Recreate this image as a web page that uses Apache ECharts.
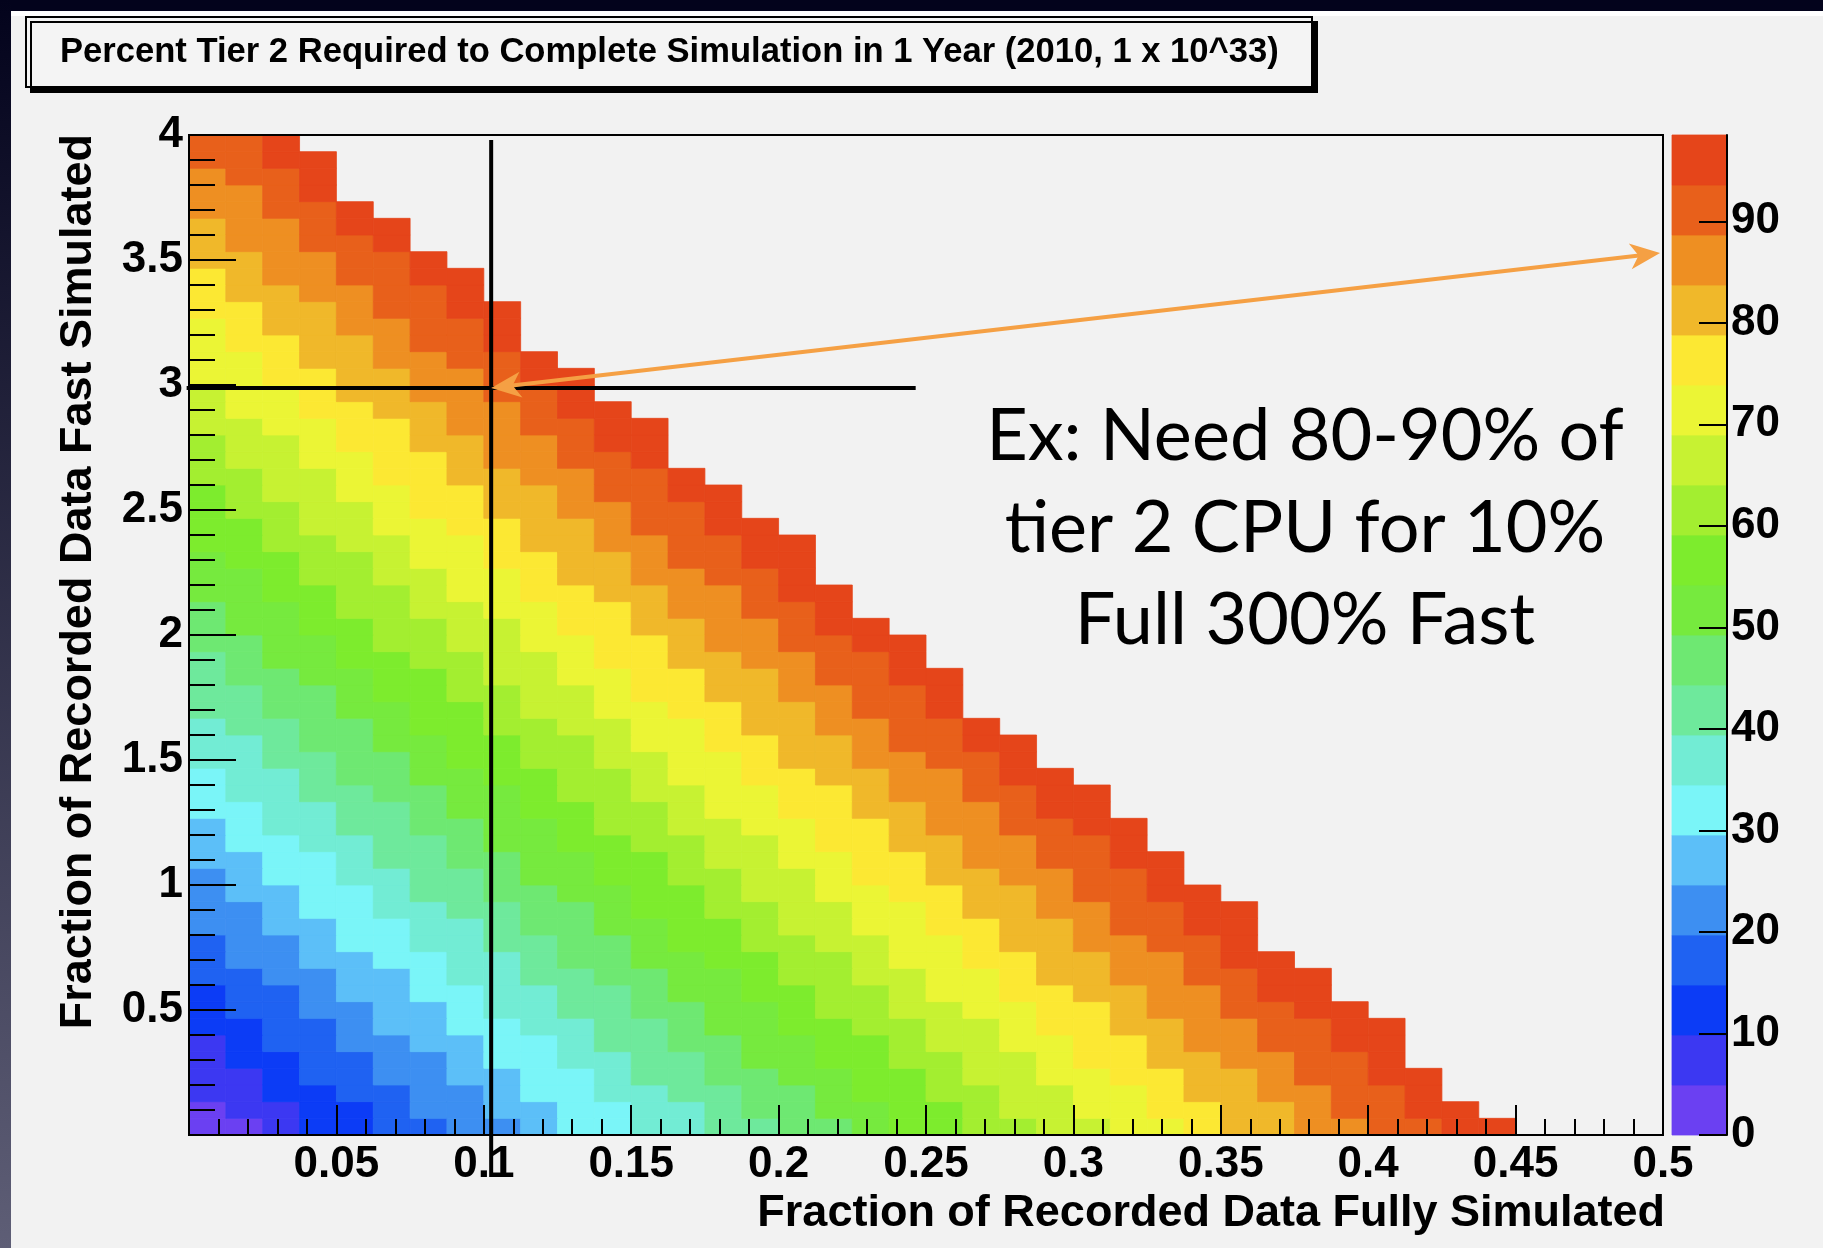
<!DOCTYPE html>
<html>
<head>
<meta charset="utf-8">
<script src="https://cdn.jsdelivr.net/npm/echarts@6/dist/echarts.min.js"></script>
<style>
  html, body { margin: 0; padding: 0; background: #f2f2f2; }
  #main { width: 1823px; height: 1248px; }
</style>
</head>
<body>
<div id="main"></div>
<script>
// ---------------- data ----------------
const titleText = 'Percent Tier 2 Required to Complete Simulation in 1 Year (2010, 1 x 10^33)';
const xAxisTitle = 'Fraction of Recorded Data Fully Simulated';
const yAxisTitle = 'Fraction of Recorded Data Fast Simulated';
const noteLines = ['Ex: Need 80-90% of', 'tier 2 CPU for 10%', 'Full 300% Fast'];

// histogram binning (40 bins in x over 0-0.5, 60 bins in y over 0-4)
const xBinWidth = 0.0125;
const yBinHeight = 4 / 60;

// z scale of the palette (0 .. max) split into 20 colour bands
const zMax = 98.5;
const bandCount = 20;
const bandCodes = '0123456789abcdefghij';   // one character per band, 0 = lowest

// colour band of every filled cell, one string per y bin (bottom row first),
// one character per x bin starting at x = 0
const levelRows = [
  '001223344566778899abbccddeefgghhiijj',
  '01122344556677899aabbcddeeffgghiijj',
  '11223344566778899abbccddeefgghhiij',
  '1123344556678899aabbcddeeffgghiijj',
  '122334456677889aabbccddeffgghhiij',
  '123344556678899aabbcddeeffghhiijj',
  '22334556677889aabbccddeffgghhiijj',
  '23344556778899aabccddeeffghhiijj',
  '2334556677889aabbccdeeffgghhijj',
  '3344556778899aabccddeefgghhiijj',
  '344556677899aabbccdeeffgghhijj',
  '344566778899abbccddeefgghhiij',
  '44556677899aabbcddeeffgghiijj',
  '44566778899abbccddeefgghhiijj',
  '4556678899aabbcddeeffgghiijj',
  '456677889aabbccddeffgghhiij',
  '556678899aabbcddeeffghhiijj',
  '56677889aabbccddeffgghhiij',
  '56778899aabccddeeffghhiijj',
  '6677889aabbccdeeffgghhijj',
  '6778899aabccddeeffghhiijj',
  '677899aabbccdeeffgghhijj',
  '778899abbccddeefgghhiij',
  '77899aabbccdeeffgghiijj',
  '78899abbccddeefgghhiij',
  '8899aabbcddeeffgghiij',
  '8899abbccddeffgghhiij',
  '899aabbcddeeffgghiijj',
  '89aabbccddeffgghhiij',
  '99aabccddeeffghhiijj',
  '9aabbccddeffgghhijj',
  '9aabccddeeffghhiij',
  'aabbccdeeffgghhijj',
  'aabccddeefgghhiij',
  'abbccdeeffgghiijj',
  'bbccddeefgghhiijj',
  'bbcddeeffgghiijj',
  'bccddeffgghhiij',
  'bcddeeffgghiijj',
  'ccddeffgghhiij',
  'cddeeffghhiij',
  'cddeffgghhijj',
  'ddeeffghhiijj',
  'deeffgghhijj',
  'deefgghhiij',
  'eeffgghhijj',
  'eefgghhiij',
  'effgghiij',
  'efgghhiij',
  'ffgghiijj',
  'fgghhiij',
  'fghhiijj',
  'gghhiij',
  'ghhiij',
  'ghhijj',
  'hhiij',
  'hhij',
  'hiij',
  'iijj',
  'iij'
];

// palette colours, lowest band first
const bandColors = [
  '#6b40f2', '#3c38f2', '#0c3cf6', '#1f62f2', '#3d8ff2',
  '#5cbff8', '#7af5f8', '#72ecd4', '#6ee99c', '#6ee872',
  '#76ea3e', '#7dec2d', '#a3ee30', '#c7f232', '#ebf535',
  '#fce833', '#f0b82a', '#ee8f22', '#e8601b', '#e5451a'
];

// hand-drawn guide lines of the example (in axis units)
const guideFull = 0.1025;         // vertical line
const guideFast = 2.988;          // horizontal line
const guideVerticalSpan = [3.98, -0.168];
const guideHorizontalSpan = [-0.0008, 0.2465];
const arrowEnd = [0.499, 3.528];  // right arrow tip (points at the 85-90 band)

// ---------------- build series data ----------------
const bandWidth = zMax / bandCount;
const cells = [];
levelRows.forEach((row, r) => {
  for (let k = 0; k < row.length; k++) {
    const band = bandCodes.indexOf(row[k]);
    cells.push([k * xBinWidth, (k + 1) * xBinWidth, r * yBinHeight, (r + 1) * yBinHeight,
                (band + 0.5) * bandWidth]);
  }
});
const paletteCells = bandColors.map((c, j) => [0, 1, j * bandWidth, (j + 1) * bandWidth, (j + 0.5) * bandWidth]);
const pieces = bandColors.map((c, j) => (j === bandCount - 1
  ? { gte: j * bandWidth, lte: zMax + 1, color: c }
  : { gte: j * bandWidth, lt: (j + 1) * bandWidth, color: c }));

const FONT = '"Liberation Sans", Arial, Helvetica, sans-serif';

function renderCell(params, api) {
  const p0 = api.coord([api.value(0), api.value(3)]);
  const p1 = api.coord([api.value(1), api.value(2)]);
  const color = api.visual('color');
  return {
    type: 'rect',
    shape: { x: p0[0], y: p0[1], width: p1[0] - p0[0], height: p1[1] - p0[1] },
    style: { fill: color, stroke: color, lineWidth: 0.8 }
  };
}

const chart = echarts.init(document.getElementById('main'), null, { renderer: 'canvas' });

const option = {
  backgroundColor: '#f2f2f2',
  animation: false,
  title: {
    text: titleText,
    left: 26, top: 17,
    padding: [15, 34],
    backgroundColor: '#f4f4f4',
    borderColor: '#000', borderWidth: 2,
    shadowColor: '#000', shadowBlur: 0, shadowOffsetX: 5, shadowOffsetY: 5,
    textStyle: { fontFamily: FONT, fontWeight: 'bold', fontSize: 34.6, color: '#000', lineHeight: 40 }
  },
  visualMap: {
    type: 'piecewise', show: false, dimension: 4, seriesIndex: [0, 1], pieces: pieces
  },
  grid: [
    { left: 189, top: 135, width: 1474, height: 1000, show: true, borderColor: '#000', borderWidth: 2,
      backgroundColor: 'transparent', z: 8 },
    { left: 1672, top: 135, width: 55, height: 1000, show: false }
  ],
  xAxis: [
    {
      type: 'value', gridIndex: 0, min: 0, max: 0.5, interval: 0.05, z: 10,
      axisLine: { show: true, onZero: false, lineStyle: { color: '#000', width: 2 } },
      axisTick: { show: true, inside: true, length: 30, lineStyle: { color: '#000', width: 2 } },
      minorTick: { show: true, splitNumber: 5, length: 16, lineStyle: { color: '#000', width: 2 } },
      splitLine: { show: false }, minorSplitLine: { show: false },
      axisLabel: {
        margin: 8, fontFamily: FONT, fontWeight: 'bold', fontSize: 44, color: '#000',
        formatter: v => (v === 0 ? '' : String(+v.toFixed(2)))
      },
      name: xAxisTitle, nameLocation: 'end', nameGap: 2,
      nameTextStyle: { fontFamily: FONT, fontWeight: 'bold', fontSize: 45, color: '#000',
                       align: 'right', verticalAlign: 'top', padding: [56, 0, 0, 0] }
    },
    { type: 'value', gridIndex: 1, min: 0, max: 1, show: false }
  ],
  yAxis: [
    {
      type: 'value', gridIndex: 0, min: 0, max: 4, interval: 0.5, z: 10,
      axisLine: { show: true, onZero: false, lineStyle: { color: '#000', width: 2 } },
      axisTick: { show: true, inside: true, length: 47, lineStyle: { color: '#000', width: 2 } },
      minorTick: { show: true, splitNumber: 5, length: 26, lineStyle: { color: '#000', width: 2 } },
      splitLine: { show: false }, minorSplitLine: { show: false },
      axisLabel: {
        margin: 6, fontFamily: FONT, fontWeight: 'bold', fontSize: 44, color: '#000',
        formatter: v => (v === 0 ? '' : String(v))
      }
    },
    {
      type: 'value', gridIndex: 1, position: 'right', min: 0, max: zMax, interval: 10, z: 10,
      axisLine: { show: true, onZero: false, lineStyle: { color: '#000', width: 2 } },
      axisTick: { show: true, inside: true, length: 28, lineStyle: { color: '#000', width: 2 } },
      splitLine: { show: false },
      axisLabel: {
        margin: 4, showMaxLabel: false, fontFamily: FONT, fontWeight: 'bold', fontSize: 44, color: '#000'
      }
    }
  ],
  series: [
    {
      type: 'custom', name: 'percent', xAxisIndex: 0, yAxisIndex: 0,
      renderItem: renderCell, encode: { x: [0, 1], y: [2, 3] }, data: cells, clip: true, z: 2
    },
    {
      type: 'custom', name: 'palette', xAxisIndex: 1, yAxisIndex: 1,
      renderItem: renderCell, encode: { x: [0, 1], y: [2, 3] }, data: paletteCells, z: 2
    }
  ]
};
chart.setOption(option);

// ---------------- overlays positioned through the axes ----------------
const px = p => chart.convertToPixel({ gridIndex: 0 }, p);
const orange = '#f5a044';

function arrowHead(tip, ux, uy, len, half) {
  const nx = -uy, ny = ux;
  return {
    type: 'polygon', z: 120,
    shape: { points: [
      tip,
      [tip[0] + ux * len + nx * half, tip[1] + uy * len + ny * half],
      [tip[0] + ux * len * 0.72, tip[1] + uy * len * 0.72],
      [tip[0] + ux * len - nx * half, tip[1] + uy * len - ny * half]
    ] },
    style: { fill: orange }
  };
}

const v0 = px([guideFull, guideVerticalSpan[0]]);
const v1 = px([guideFull, guideVerticalSpan[1]]);
const h0 = px([guideHorizontalSpan[0], guideFast]);
const h1 = px([guideHorizontalSpan[1], guideFast]);
const a = px([guideFull, guideFast]);
const b = px(arrowEnd);
const dx = b[0] - a[0], dy = b[1] - a[1], dl = Math.hypot(dx, dy);
const ux = dx / dl, uy = dy / dl;
const headLen = 30, headHalf = 13;

chart.setOption({
  graphic: [
    { type: 'rect', z: 50, shape: { x: 0, y: 0, width: 1823, height: 11 }, style: { fill: '#03031c' } },
    { type: 'rect', z: 49, shape: { x: 0, y: 11, width: 1823, height: 5 }, style: { fill: '#ffffff' } },
    { type: 'rect', z: 50, shape: { x: 0, y: 0, width: 11, height: 1248 },
      style: { fill: new echarts.graphic.LinearGradient(0, 0, 0, 1, [
        { offset: 0, color: '#03031c' }, { offset: 1, color: '#5e5e76' }]) } },
    { type: 'text', z: 60, x: 79, y: 134, rotation: Math.PI / 2,
      style: { text: yAxisTitle, font: 'bold 45px ' + FONT, fill: '#000',
               align: 'right', verticalAlign: 'middle', textAlign: 'right', textVerticalAlign: 'middle' } },
    { type: 'text', z: 60, x: 1305, y: 529,
      style: { text: noteLines.join('\n'), font: '72px Lato, "Open Sans", sans-serif', fill: '#000',
               lineHeight: 92, align: 'center', verticalAlign: 'middle',
               textAlign: 'center', textVerticalAlign: 'middle' } },
    { type: 'line', z: 100, shape: { x1: v0[0], y1: v0[1], x2: v1[0], y2: v1[1] },
      style: { stroke: '#000', lineWidth: 4 } },
    { type: 'line', z: 100, shape: { x1: h0[0], y1: h0[1], x2: h1[0], y2: h1[1] },
      style: { stroke: '#000', lineWidth: 4 } },
    { type: 'line', z: 110,
      shape: { x1: a[0] + ux * headLen * 0.7, y1: a[1] + uy * headLen * 0.7,
               x2: b[0] - ux * headLen * 0.7, y2: b[1] - uy * headLen * 0.7 },
      style: { stroke: orange, lineWidth: 4 } },
    arrowHead(a, ux, uy, headLen, headHalf),
    arrowHead(b, -ux, -uy, headLen, headHalf)
  ]
});
</script>
</body>
</html>
